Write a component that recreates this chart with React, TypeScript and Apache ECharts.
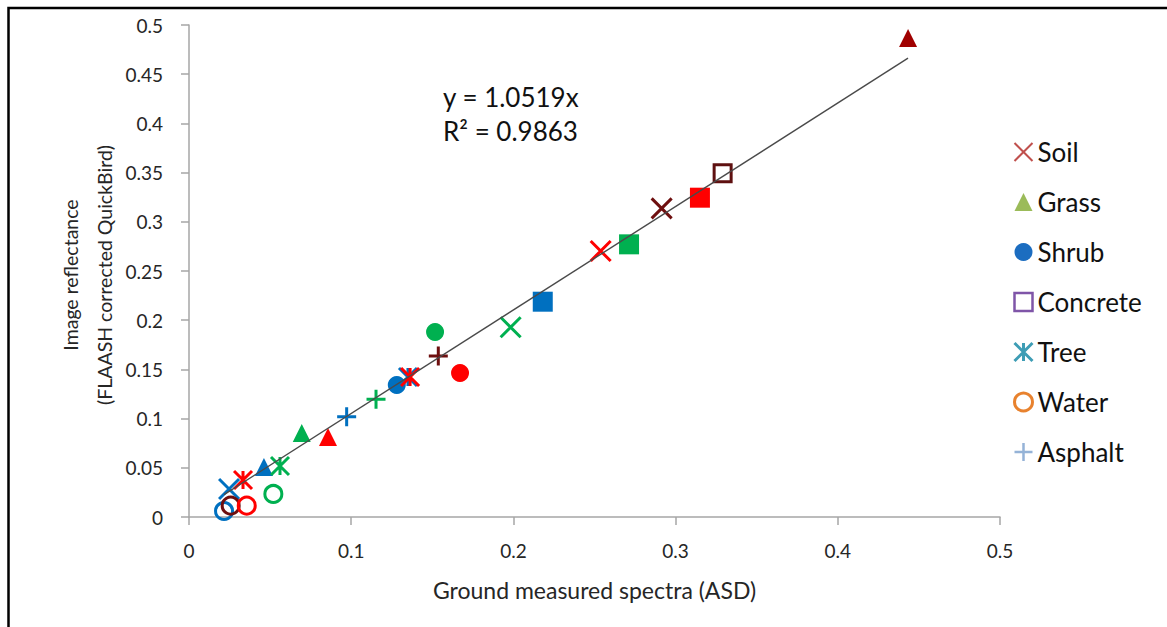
import React, { useEffect, useRef } from "react";
import * as echarts from "echarts";

// ---- Data ----
const soilX = [0.2538, 0.2914, 0.1983, 0.0247];
const soilY = [0.2703, 0.3137, 0.1928, 0.0285];
const soilSite = ["red", "maroon", "green", "blue"];

const grassX = [0.4433, 0.0695, 0.0857, 0.0462];
const grassY = [0.4868, 0.0854, 0.0813, 0.0508];
const grassSite = ["darkred", "green", "red", "blue"];

const shrubX = [0.1517, 0.1671, 0.1281];
const shrubY = [0.188, 0.1463, 0.1341];
const shrubSite = ["green", "red", "blue"];

const concreteX = [0.2181, 0.2713, 0.315, 0.329];
const concreteY = [0.2188, 0.2771, 0.3245, 0.3493];
const concreteSite = ["blue", "green", "red", "maroonOpen"];

const treeX = [0.0333, 0.0561, 0.135, 0.1363];
const treeY = [0.0376, 0.0518, 0.1423, 0.1423];
const treeSite = ["red", "green", "blue", "red"];

const waterX = [0.0216, 0.0257, 0.0356, 0.052];
const waterY = [0.0061, 0.0115, 0.0115, 0.0234];
const waterSite = ["blue", "maroon", "red", "green"];

const asphaltX = [0.0972, 0.1153, 0.1537];
const asphaltY = [0.1019, 0.1196, 0.1636];
const asphaltSite = ["blue", "green", "maroon"];

const slope = 1.0519;
const r2 = 0.9863;

const xTicks = [0, 0.1, 0.2, 0.3, 0.4, 0.5];
const yTicks = [0, 0.05, 0.1, 0.15, 0.2, 0.25, 0.3, 0.35, 0.4, 0.45, 0.5];

// ---- Styles ----
const siteColors: Record<string, string> = {
  red: "#FF0000",
  green: "#00B050",
  blue: "#0070C0",
  darkred: "#A00000",
  maroon: "#6E0F0F",
  maroonOpen: "#5E1010",
};

const FONT = "Lato, 'Open Sans', sans-serif";
const crossPath = "path://M0,0L10,10M10,0L0,10";
const plusPath = "path://M5,0L5,10M0,5L10,5";
const starPath = "path://M0,0L10,10M10,0L0,10M5,0L5,10";

type Kind = "stroke" | "fill" | "open";

function build(
  name: string,
  xs: number[],
  ys: number[],
  sites: string[],
  symbol: string,
  size: number,
  kind: Kind,
  legendColor: string
) {
  return {
    type: "scatter",
    name,
    symbol,
    symbolSize: size,
    itemStyle: { color: legendColor, opacity: 1 },
    z: 3,
    data: xs.map((x, i) => {
      const c = siteColors[sites[i]];
      let style: any;
      const open = kind === "open" || sites[i] === "maroonOpen";
      if (kind === "stroke" || open) {
        style = { color: "none", borderColor: c, borderWidth: 3, opacity: 1 };
      } else {
        style = { color: c, borderWidth: 0, opacity: 1 };
      }
      return {
        value: [x, ys[i]],
        itemStyle: style,
        symbolSize: open && kind !== "open" ? size - 3 : size,
      };
    }),
  };
}

export default function App() {
  const ref = useRef<HTMLDivElement>(null);
  useEffect(() => {
    if (!ref.current) return;
    const chart = echarts.init(ref.current, null, { renderer: "svg" });

    const allX = [
      ...soilX, ...grassX, ...shrubX, ...concreteX, ...treeX, ...waterX, ...asphaltX,
    ];
    const xMin = Math.min(...allX);
    const xMax = Math.max(...allX);

    const legendItems = [
      { name: "Soil", icon: crossPath, itemStyle: { color: "none", borderColor: "#C0504D", borderWidth: 2, opacity: 1 } },
      { name: "Grass", icon: "triangle", itemStyle: { color: "#9BBB59", borderWidth: 0, opacity: 1 } },
      { name: "Shrub", icon: "circle", itemStyle: { color: "#1C6DC0", borderWidth: 0, opacity: 1 } },
      { name: "Concrete", icon: "rect", itemStyle: { color: "none", borderColor: "#7F55A8", borderWidth: 2.5, opacity: 1 } },
      { name: "Tree", icon: starPath, itemStyle: { color: "none", borderColor: "#3E9DB5", borderWidth: 3, opacity: 1 } },
      { name: "Water", icon: "circle", itemStyle: { color: "none", borderColor: "#E8822E", borderWidth: 3, opacity: 1 } },
      { name: "Asphalt", icon: plusPath, itemStyle: { color: "none", borderColor: "#95B3D7", borderWidth: 2.5, opacity: 1 } },
    ];

    chart.setOption({
      animation: false,
      backgroundColor: "#FFFFFF",
      grid: { left: 189, right: 167, top: 25, bottom: 110, containLabel: false },
      xAxis: {
        type: "value",
        min: xTicks[0],
        max: xTicks[xTicks.length - 1],
        interval: 0.1,
        name: "Ground measured spectra (ASD)",
        nameLocation: "middle",
        nameGap: 61,
        nameTextStyle: { fontFamily: FONT, fontSize: 23, color: "#262626" },
        axisLine: { lineStyle: { color: "#A6A6A6", width: 1.5 } },
        axisTick: { show: true, inside: false, length: 8, lineStyle: { color: "#A6A6A6", width: 1.5 } },
        axisLabel: {
          margin: 24,
          fontFamily: FONT,
          fontSize: 19,
          color: "#262626",
          formatter: (v: number) => String(+v.toFixed(2)),
        },
        splitLine: { show: false },
      },
      yAxis: {
        type: "value",
        min: yTicks[0],
        max: yTicks[yTicks.length - 1],
        interval: 0.05,
        axisLine: { show: true, lineStyle: { color: "#A6A6A6", width: 1.5 } },
        axisTick: { show: true, inside: false, length: 8, lineStyle: { color: "#A6A6A6", width: 1.5 } },
        axisLabel: {
          margin: 26,
          fontFamily: FONT,
          fontSize: 19,
          color: "#262626",
          formatter: (v: number) => String(+v.toFixed(2)),
        },
        splitLine: { show: false },
      },
      legend: {
        orient: "vertical",
        left: 1007,
        top: 134,
        itemWidth: 18,
        itemHeight: 18,
        itemGap: 24,
        textStyle: { fontFamily: FONT, fontSize: 26, color: "#111", lineHeight: 24 },
        data: legendItems,
      },
      graphic: [
        {
          type: "rect",
          shape: { x: 8.5, y: 8, width: 1300, height: 800 },
          style: { fill: "none", stroke: "#000", lineWidth: 2.5 },
          silent: true,
        },
        {
          type: "text",
          x: 70,
          y: 275,
          rotation: Math.PI / 2,
          style: {
            text: "Image reflectance",
            align: "center",
            verticalAlign: "middle",
            fontFamily: FONT,
            fontSize: 19.5,
            fill: "#262626",
          },
        },
        {
          type: "text",
          x: 104,
          y: 275,
          rotation: Math.PI / 2,
          style: {
            text: "(FLAASH corrected QuickBird)",
            align: "center",
            verticalAlign: "middle",
            fontFamily: FONT,
            fontSize: 19.5,
            fill: "#262626",
          },
        },
        {
          type: "text",
          x: 443,
          y: 97,
          style: {
            text: "y = " + slope.toFixed(4) + "x",
            align: "left",
            verticalAlign: "middle",
            fontFamily: FONT,
            fontSize: 26,
            fill: "#111",
          },
        },
        {
          type: "text",
          x: 443,
          y: 131,
          style: {
            text: "R² = " + r2.toFixed(4),
            align: "left",
            verticalAlign: "middle",
            fontFamily: FONT,
            fontSize: 26,
            fill: "#111",
          },
        },
      ],
      series: [
        build("Soil", soilX, soilY, soilSite, crossPath, 20, "stroke", "#C0504D"),
        build("Grass", grassX, grassY, grassSite, "triangle", 18, "fill", "#9BBB59"),
        build("Shrub", shrubX, shrubY, shrubSite, "circle", 18, "fill", "#1C6DC0"),
        build("Concrete", concreteX, concreteY, concreteSite, "rect", 20, "fill", "#7F55A8"),
        build("Tree", treeX, treeY, treeSite, starPath, 18, "stroke", "#3E9DB5"),
        build("Water", waterX, waterY, waterSite, "circle", 17, "open", "#E8822E"),
        build("Asphalt", asphaltX, asphaltY, asphaltSite, plusPath, 19, "stroke", "#95B3D7"),
        {
          type: "line",
          name: "trend",
          symbol: "none",
          silent: true,
          z: 5,
          lineStyle: { color: "#4A4A4A", width: 1.4 },
          data: [
            [xMin, slope * xMin],
            [xMax, slope * xMax],
          ],
        },
      ],
    });
    return () => chart.dispose();
  }, []);

  return (
    <div
      ref={ref}
      style={{ position: "fixed", left: 0, top: 0, width: 1167, height: 627, background: "#fff" }}
    />
  );
}
